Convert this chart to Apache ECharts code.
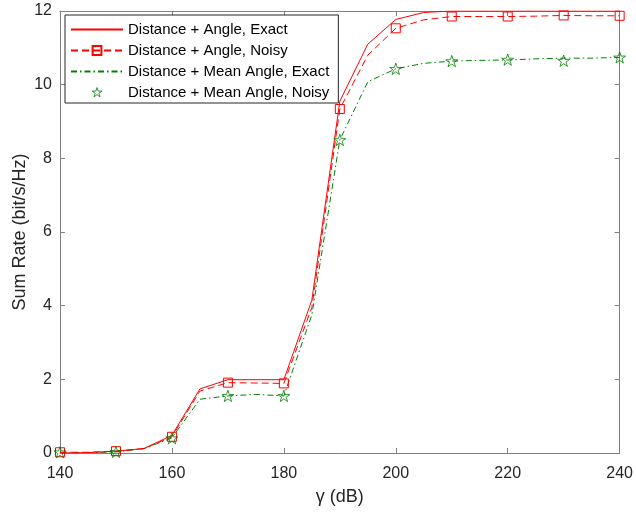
<!DOCTYPE html>
<html>
<head>
<meta charset="utf-8">
<script src="https://cdn.jsdelivr.net/npm/echarts@6/dist/echarts.min.js"></script>
<style>
html,body{margin:0;padding:0;background:#fff;}
#chart{width:636px;height:512px;}
</style>
</head>
<body>
<div id="chart"></div>
<script>
// gamma values (dB), step 5 for line vertices
var gamma5 = [140,145,150,155,160,165,170,175,180,185,190,195,200,205,210,215,220,225,230,235,240];
// gamma values for markers
var gamma10 = [140,150,160,170,180,190,200,210,220,230,240];

var exactVals     = [0, 0.01, 0.05, 0.12, 0.48, 1.74, 1.99, 1.99, 1.99, 4.15, 9.55, 11.1, 11.77, 11.96, 12.0, 12.0, 12.0, 12.0, 12.0, 12.0, 12.0];
var noisyVals     = [0.02, 0.02, 0.05, 0.12, 0.44, 1.68, 1.91, 1.90, 1.89, 3.95, 9.34, 10.8, 11.53, 11.76, 11.85, 11.85, 11.85, 11.86, 11.88, 11.87, 11.87];
var meanExactVals = [0, 0.01, 0.03, 0.12, 0.41, 1.46, 1.55, 1.59, 1.55, 3.75, 8.5, 10.08, 10.43, 10.58, 10.64, 10.66, 10.67, 10.70, 10.72, 10.72, 10.74];
var meanNoisyVals = [0.02, 0.03, 0.40, 1.55, 1.55, 8.5, 10.43, 10.64, 10.68, 10.65, 10.74];

var xTicks = [140,160,180,200,220,240];
var yTicks = [0,2,4,6,8,10,12];

var names = ['Distance + Angle, Exact','Distance + Angle, Noisy','Distance + Mean Angle, Exact','Distance + Mean Angle, Noisy'];

var RED = '#ff0000', GREEN = '#008000', AX = '#7f7f7f', TXT = '#262626';
var FONT = '"Liberation Sans", Arial, Helvetica, sans-serif';
var STAR_D = 'M50,2 L61.2,36.3 L97.5,36.3 L68.2,57.5 L79.4,91.8 L50,70.6 L20.6,91.8 L31.8,57.5 L2.5,36.3 L38.8,36.3 Z';
var STAR = 'path://' + STAR_D;
// legend icon: same star with an invisible, slightly larger bounding box
var STAR_LEGEND = 'path://M-3,-3 Z M103,103 Z ' + STAR_D;

function pairs(xs, ys){ return xs.map(function(x,i){ return [x, ys[i]]; }); }
function markedPairs(xs, ys, marks){
  return xs.map(function(x,i){
    var item = {value:[x, ys[i]]};
    if (marks.indexOf(x) < 0) item.symbol = 'none';
    return item;
  });
}

function xAxisDef(pos, showLabel){
  return {
    type:'value', position:pos, min:xTicks[0], max:xTicks[xTicks.length-1], interval:xTicks[1]-xTicks[0],
    axisLine:{show:true, onZero:false, lineStyle:{color:AX, width:1}},
    axisTick:{show:true, inside:true, length:5, lineStyle:{color:AX}},
    splitLine:{show:false},
    axisLabel:{show:showLabel, color:TXT, fontSize:16, fontFamily:FONT, margin:13},
    name: showLabel ? 'γ (dB)' : '', nameLocation:'middle', nameGap:35, nameMoveOverlap:false,
    nameTextStyle:{color:TXT, fontSize:18, fontFamily:FONT}
  };
}
function yAxisDef(pos, showLabel){
  return {
    type:'value', position:pos, min:yTicks[0], max:yTicks[yTicks.length-1], interval:yTicks[1]-yTicks[0],
    axisLine:{show:true, onZero:false, lineStyle:{color:AX, width:1}},
    axisTick:{show:true, inside:true, length:5, lineStyle:{color:AX}},
    splitLine:{show:false},
    axisLabel:{show:showLabel, color:TXT, fontSize:16, fontFamily:FONT, margin:8},
    name: showLabel ? 'Sum Rate (bit/s/Hz)' : '', nameLocation:'middle', nameGap:31, nameMoveOverlap:false,
    nameTextStyle:{color:TXT, fontSize:18, fontFamily:FONT}
  };
}

var chart = echarts.init(document.getElementById('chart'), null, {renderer:'canvas'});
chart.setOption({
  animation:false,
  backgroundColor:'#fff',
  textStyle:{fontFamily:FONT},
  grid:{left:60, right:14, top:11, bottom:59, containLabel:false},
  xAxis:[xAxisDef('bottom', true), xAxisDef('top', false)],
  yAxis:[yAxisDef('left', true), yAxisDef('right', false)],
  legend:{
    orient:'vertical', left:65, top:15,
    itemWidth:52, itemHeight:11, itemGap:6,
    padding:[7,9,3,5],
    borderColor:TXT, borderWidth:1, backgroundColor:'#fff',
    textStyle:{color:'#000', fontSize:15, lineHeight:15, fontFamily:FONT},
    data:[
      {name:names[0], itemStyle:{opacity:0}},
      {name:names[1]},
      {name:names[2], itemStyle:{opacity:0}},
      {name:names[3], icon:STAR_LEGEND, itemStyle:{color:'rgba(255,255,255,0)', borderColor:GREEN, borderWidth:1}}
    ]
  },
  series:[
    {
      name:names[0], type:'line', data:pairs(gamma5, exactVals),
      symbol:'none', lineStyle:{color:RED, width:1}, itemStyle:{color:RED}, z:3
    },
    {
      name:names[1], type:'line', data:markedPairs(gamma5, noisyVals, gamma10),
      symbol:'rect', symbolSize:9, showAllSymbol:true,
      lineStyle:{color:RED, width:1, type:[7,4]},
      itemStyle:{color:'rgba(255,255,255,0)', borderColor:RED, borderWidth:1}, z:4
    },
    {
      name:names[2], type:'line', data:pairs(gamma5, meanExactVals),
      symbol:'none', lineStyle:{color:GREEN, width:1, type:[6,3,1.5,3]}, itemStyle:{color:GREEN}, z:2
    },
    {
      name:names[3], type:'scatter', data:pairs(gamma10, meanNoisyVals),
      symbol:STAR, symbolSize:12, symbolKeepAspect:true,
      itemStyle:{color:'rgba(255,255,255,0)', borderColor:GREEN, borderWidth:1}, z:5
    }
  ]
});
</script>
</body>
</html>
